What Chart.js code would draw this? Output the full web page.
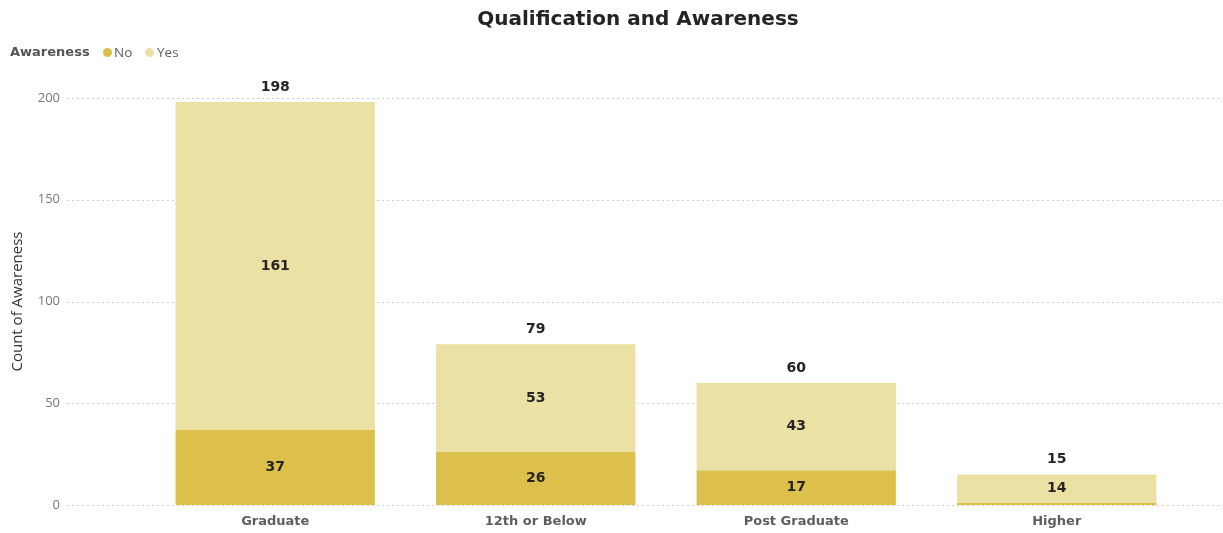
<!DOCTYPE html>
<html>
<head>
<meta charset="utf-8">
<script src="https://cdn.jsdelivr.net/npm/chart.js@4"></script>
<style>
  html, body { margin: 0; padding: 0; background: #fff; }
  #wrap { position: relative; width: 1223px; height: 533px; }
  #title {
    position: absolute; left: 0; top: 6px; width: 1276px; text-align: center;
    font: bold 20px "DejaVu Sans", sans-serif; color: #252423;
  }
  #legend {
    position: absolute; left: 0; top: 43px; width: 200px; height: 20px;
    font: 13.5px "Open Sans", sans-serif; color: #605e5c; white-space: nowrap;
  }
  #legend span { position: absolute; top: 0; }
  #legend .head { left: 10px; font: bold 13px "DejaVu Sans", sans-serif; top: 1px; color: #555; }
  #legend .dot { width: 9px; height: 9px; border-radius: 50%; top: 5px; }
</style>
</head>
<body>
<div id="wrap">
  <canvas id="qualChart"></canvas>
  <div id="title">Qualification and Awareness</div>
  <div id="legend">
    <span class="head">Awareness</span>
    <span class="dot" style="left:103px;background:#dcc04b"></span><span style="left:114px">No</span>
    <span class="dot" style="left:145px;background:#ebe1a4"></span><span style="left:157px">Yes</span>
  </div>
</div>
<script>
// setup
const qualifications = ["Graduate", "12th or Below", "Post Graduate", "Higher"];
const noCounts = [37, 26, 17, 1];
const yesCounts = [161, 53, 43, 14];
const yTicks = [0, 50, 100, 150, 200];

const gold = '#dcc04b';
const paleGold = '#ebe1a4';

// dotted horizontal grid drawn wider than the plot area
const dottedGrid = {
  id: 'dottedGrid',
  beforeDatasetsDraw(chart) {
    const ctx = chart.ctx;
    const y = chart.scales.y;
    ctx.save();
    ctx.strokeStyle = '#d0d0d0';
    ctx.lineWidth = 1;
    ctx.setLineDash([2, 3]);
    yTicks.forEach(v => {
      const py = Math.round(y.getPixelForValue(v)) + 0.5;
      ctx.beginPath();
      ctx.moveTo(67, py);
      ctx.lineTo(chart.width, py);
      ctx.stroke();
    });
    ctx.restore();
  }
};

// segment values inside the bars, totals on top
const barLabels = {
  id: 'barLabels',
  afterDatasetsDraw(chart) {
    const ctx = chart.ctx;
    ctx.save();
    ctx.font = 'bold 14px "DejaVu Sans", sans-serif';
    ctx.fillStyle = '#252423';
    ctx.textAlign = 'center';
    ctx.textBaseline = 'middle';
    chart.data.datasets.forEach((ds, i) => {
      chart.getDatasetMeta(i).data.forEach((bar, j) => {
        const h = bar.base - bar.y;
        if (h < 12) return;
        ctx.fillText(ds.data[j], bar.x, (bar.y + bar.base) / 2);
      });
    });
    const top = chart.getDatasetMeta(1).data;
    top.forEach((bar, j) => {
      ctx.fillText(noCounts[j] + yesCounts[j], bar.x, bar.y - 15);
    });
    ctx.restore();
  }
};

const data = {
  labels: qualifications,
  datasets: [{
    label: 'No',
    data: noCounts,
    backgroundColor: gold,
    barPercentage: 0.765,
    categoryPercentage: 1
  }, {
    label: 'Yes',
    data: yesCounts,
    backgroundColor: paleGold,
    barPercentage: 0.765,
    categoryPercentage: 1
  }]
};

// config
const config = {
  type: 'bar',
  data,
  plugins: [dottedGrid, barLabels],
  options: {
    responsive: true,
    maintainAspectRatio: false,
    animation: false,
    layout: { padding: { left: 6, right: 36, top: 98, bottom: 2 } },
    plugins: {
      legend: { display: false },
      tooltip: { enabled: false }
    },
    scales: {
      x: {
        stacked: true,
        afterFit(scale) { scale.height = 26; },
        grid: { display: false, drawTicks: false },
        border: { display: false },
        ticks: {
          color: '#605e5c',
          font: { family: 'DejaVu Sans', weight: 'bold', size: 13 },
          padding: 9
        }
      },
      y: {
        stacked: true,
        min: 0,
        max: 200,
        afterFit(scale) {
          // the wide label gap should not eat vertical space
          scale.width = 139;
          scale.paddingTop = 8;
          scale.paddingBottom = 8;
        },
        afterBuildTicks(scale) { scale.ticks = yTicks.map(v => ({ value: v })); },
        grid: { display: false, drawTicks: false },
        border: { display: false },
        ticks: {
          color: '#777',
          font: { family: 'Open Sans', size: 13 },
          padding: 85
        },
        title: {
          display: true,
          text: 'Count of Awareness',
          color: '#333',
          font: { family: 'Open Sans', size: 15 },
          padding: { top: 3, bottom: 4 }
        }
      }
    }
  }
};

// render init block
const qualChart = new Chart(document.getElementById('qualChart'), config);
</script>
</body>
</html>
